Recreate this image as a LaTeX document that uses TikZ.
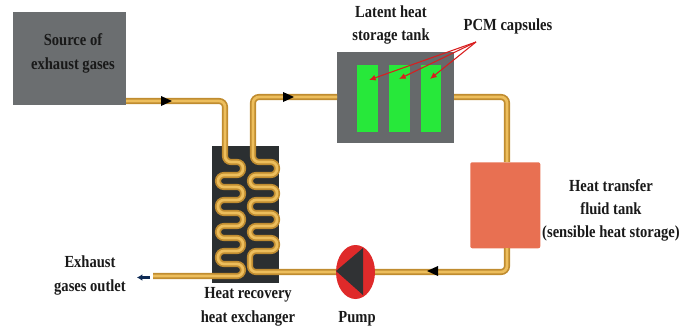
\documentclass[tikz,border=0pt]{standalone}
\usepackage{fontspec}
\setmainfont[FakeStretch=0.86]{Liberation Serif}
\usetikzlibrary{arrows.meta,calc,shapes.geometric}
\definecolor{boxgray}{HTML}{6B6E70}
\definecolor{tankgray}{HTML}{66696B}
\definecolor{pcm}{HTML}{27E83A}
\definecolor{rtank}{HTML}{E87052}
\definecolor{hxdark}{HTML}{2B2F31}
\definecolor{pipeout}{HTML}{C08C30}
\definecolor{pipein}{HTML}{EDBE5C}
\definecolor{pumpred}{HTML}{DF2A2A}
\definecolor{pumpdark}{HTML}{303234}
\definecolor{capred}{HTML}{D81E1E}
\definecolor{outnavy}{HTML}{0E2A55}
\tikzset{
  lbl/.style={font=\fontsize{12.7pt}{14pt}\selectfont\bfseries,align=center,text=black!90,inner sep=0pt},
  block/.style={draw=none,minimum width=#1,inner sep=0pt,anchor=north west},
  pipeO/.style={draw=pipeout,line width=4.6pt,rounded corners=#1},
  pipeO/.default=4.5pt,
  pipeI/.style={draw=pipein,line width=2pt,rounded corners=#1},
  pipeI/.default=4.5pt,
  capline/.style={draw=capred,line width=0.8pt,-{Latex[length=5pt,width=4.5pt]}},
}
\newcommand{\pipeline}[2][4.5pt]{%
  \path[pipeO=#1] #2;
  \path[pipeI=#1] #2;}
\begin{document}
\begin{tikzpicture}[x=0.75pt,y=-0.75pt]
\useasboundingbox (0,0) rectangle (696,332);
% blocks
\node[block=113*0.75pt,minimum height=93*0.75pt,fill=boxgray] (source) at (13,12) {};
\node[block=117*0.75pt,minimum height=91*0.75pt,fill=tankgray] (tank) at (337,52) {};
\node[block=70*0.75pt,minimum height=86*0.75pt,fill=rtank,rounded corners=1.5pt] (rt) at (470,162) {};
\node[block=67*0.75pt,minimum height=137*0.75pt,fill=hxdark] (hx) at (212,146) {};
% named pipe points
\coordinate (s1) at (126,101);
\coordinate (s2) at (225,101);
\coordinate (t1) at (337,97);
\coordinate (t2) at (253,97);
\coordinate (t3) at (454,97);
\coordinate (t4) at (507,97);
\coordinate (r1) at (507,162);
\coordinate (r2) at (507,248);
\coordinate (r3) at (507,272);
\coordinate (p1) at (375,272);
\coordinate (p2) at (336,272);
\coordinate (out) at (153,276);
% pipes outside exchanger and serpentines
\pipeline{(s1) -- (s2) -- (225,162) -- (243,162) -- (243,175) -- (218,175) -- (218,187) -- (243,187) -- (243,200) -- (218,200) -- (218,213) -- (243,213) -- (243,226) -- (218,226) -- (218,238) -- (243,238) -- (243,251) -- (218,251) -- (218,264) -- (243,264) -- (243,276) -- (out)}
\pipeline{(t1) -- (t2) -- (253,162) -- (277,162) -- (277,175) -- (250,175) -- (250,187) -- (277,187) -- (277,200) -- (250,200) -- (250,213) -- (277,213) -- (277,226) -- (250,226) -- (250,238) -- (277,238) -- (277,251) -- (250,251) -- (250,272) -- (p2)}
\pipeline{(t3) -- (t4) -- (r1)}
\pipeline{(r2) -- (r3) -- (p1)}
% PCM capsules
\node[block=21*0.75pt,minimum height=67*0.75pt,fill=pcm] (c1) at (357,65) {};
\node[block=21*0.75pt,minimum height=67*0.75pt,fill=pcm] (c2) at (389,65) {};
\node[block=20*0.75pt,minimum height=67*0.75pt,fill=pcm] (c3) at (421,65) {};
% pump
\node[draw=none,fill=pumpred,ellipse,minimum width=39*0.75pt,minimum height=54*0.75pt,inner sep=0pt] (pump) at (355.5,272) {};
\fill[pumpdark] (336,271) -- (363,248) -- (363,295) -- cycle;
% flow arrows
\fill[black] (161,96) -- (172,101) -- (161,106) -- cycle;
\fill[black] (283,92) -- (294,97) -- (283,102) -- cycle;
\fill[black] (438,266) -- (427,271) -- (438,276) -- cycle;
% outlet arrow
\coordinate (o1) at (150,277.5);
\coordinate (o2) at (137,277.5);
\draw[outnavy,line width=1.6pt,-{Latex[length=4pt,width=5pt]}] (o1) -- (o2);
% capsule leaders
\coordinate (pcmtip) at (476,42);
\coordinate (a1) at (369,80);
\coordinate (a2) at (399,79);
\coordinate (a3) at (430,79);
\draw[capline] (pcmtip) -- (a1);
\draw[capline] (pcmtip) -- (a2);
\draw[capline] (pcmtip) -- (a3);
% labels
\node[lbl] (lsource) at (73,53) {Source of\\[4pt]exhaust gases};
\node[lbl] (ltank) at (391,25) {Latent heat\\[3pt]storage tank};
\node[lbl] (lpcm) at (508,26) {PCM capsules};
\node[lbl] (lrt) at (611,210) {Heat transfer\\[3.2pt]fluid tank\\[3.2pt](sensible heat storage)};
\node[lbl] (lout) at (90,275) {Exhaust\\[4pt]gases outlet};
\node[lbl] (lhx) at (248,307) {Heat recovery\\[4pt]heat exchanger};
\node[lbl] (lpump) at (357,319) {Pump};
\end{tikzpicture}
\end{document}
